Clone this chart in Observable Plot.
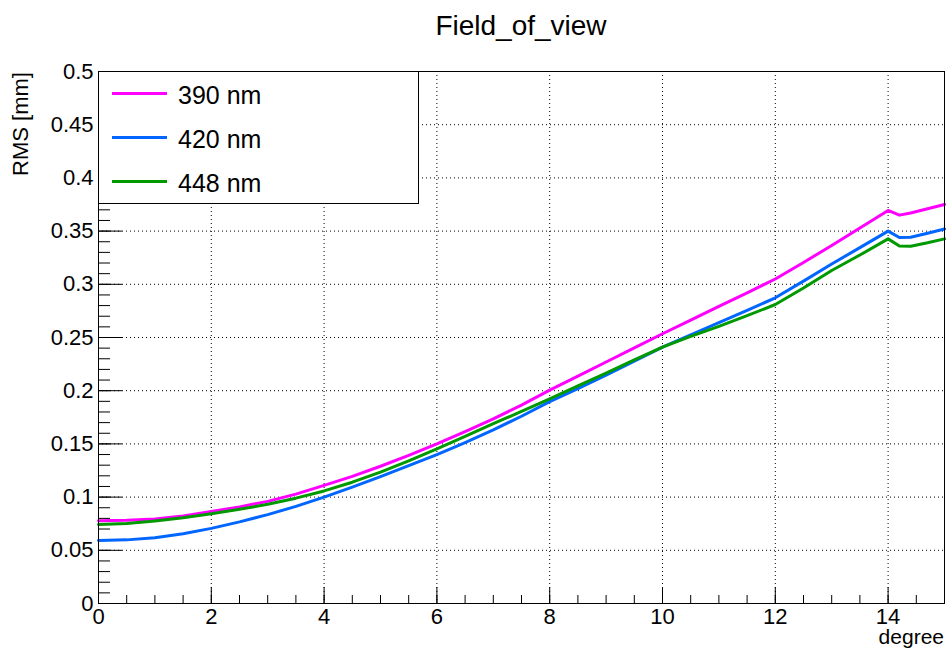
<!DOCTYPE html>
<html><head><meta charset="utf-8">
<script src="https://cdn.jsdelivr.net/npm/d3@7"></script>
<script src="https://cdn.jsdelivr.net/npm/@observablehq/plot@0.6"></script>
<style>
body{margin:0;background:#fff;}
#wrap{position:relative;width:946px;height:649px;font-family:"Liberation Sans",Arial,sans-serif;}
#wrap svg{position:absolute;left:0;top:0;}
</style></head><body><div id="wrap"></div>
<script>
const title = "Field_of_view";
const yTitle = "RMS [mm]";
const xTitle = "degree";
const seriesNames = ["390 nm", "420 nm", "448 nm"];
const seriesColors = ["#ff00ff", "#0066ff", "#009900"];

const degrees = [0,0.5,1,1.5,2,2.5,3,3.5,4,4.5,5,5.5,6,6.5,7,7.5,8,8.5,9,9.5,10,10.5,11,11.5,12,12.5,13,13.5,14,14.2,14.4,14.7,15];
const rms390 = [0.0778,0.0782,0.0795,0.0822,0.0866,0.0908,0.0960,0.1028,0.1110,0.1195,0.1290,0.1392,0.1500,0.1615,0.1735,0.1865,0.2005,0.2137,0.2270,0.2402,0.2535,0.2664,0.2793,0.2920,0.3050,0.3205,0.3365,0.3530,0.3694,0.3650,0.3670,0.3710,0.3750];
const rms420 = [0.0592,0.0598,0.0618,0.0655,0.0706,0.0767,0.0835,0.0913,0.1000,0.1093,0.1192,0.1295,0.1400,0.1513,0.1632,0.1760,0.1898,0.2019,0.2146,0.2278,0.2410,0.2525,0.2640,0.2755,0.2873,0.3030,0.3190,0.3345,0.3500,0.3440,0.3443,0.3480,0.3520];
const rms448 = [0.0742,0.0752,0.0775,0.0805,0.0843,0.0885,0.0932,0.0990,0.1058,0.1140,0.1235,0.1340,0.1454,0.1570,0.1690,0.1805,0.1924,0.2045,0.2165,0.2290,0.2410,0.2510,0.2605,0.2705,0.2810,0.2965,0.3130,0.3275,0.3427,0.3360,0.3358,0.3390,0.3427];

const xMajor = [0,2,4,6,8,10,12,14];
const xLabels = ["0","2","4","6","8","10","12","14"];
const xMinor = [0,0.5,1,1.5,2,2.5,3,3.5,4,4.5,5,5.5,6,6.5,7,7.5,8,8.5,9,9.5,10,10.5,11,11.5,12,12.5,13,13.5,14,14.5,15];
const yMajor = [0,0.05,0.1,0.15,0.2,0.25,0.3,0.35,0.4,0.45,0.5];
const yLabels = ["0","0.05","0.1","0.15","0.2","0.25","0.3","0.35","0.4","0.45","0.5"];
const yMinor = [0,0.01,0.02,0.03,0.04,0.05,0.06,0.07,0.08,0.09,0.1,0.11,0.12,0.13,0.14,0.15,0.16,0.17,0.18,0.19,0.2,0.21,0.22,0.23,0.24,0.25,0.26,0.27,0.28,0.29,0.3,0.31,0.32,0.33,0.34,0.35,0.36,0.37,0.38,0.39,0.4,0.41,0.42,0.43,0.44,0.45,0.46,0.47,0.48,0.49,0.5];

const allSeries = [rms390, rms420, rms448];
const data = [];
allSeries.forEach((arr, s) => arr.forEach((v, i) => data.push({deg: degrees[i], rms: v, series: seriesNames[s]})));

const gridStyle = {stroke: "black", strokeOpacity: 1, strokeWidth: 1, strokeDasharray: "1,3"};

const chart = Plot.plot({
  width: 946, height: 649,
  marginLeft: 98, marginRight: 2, marginTop: 71, marginBottom: 46,
  x: {domain: [0, 15]},
  y: {domain: [0, 0.5]},
  color: {domain: seriesNames, range: seriesColors},
  style: {fontFamily: "'Liberation Sans', Arial, sans-serif", fontSize: "22px", color: "black", background: "white"},
  marks: [
    Plot.gridX({ticks: xMajor, ...gridStyle}),
    Plot.gridY({ticks: yMajor, ...gridStyle}),
    Plot.axisX({ticks: xMinor, tickSize: -8, tickFormat: () => "", label: null}),
    Plot.axisX({ticks: xMajor, tickSize: -16, tickFormat: () => "", label: null}),
    Plot.axisX({ticks: xMajor, tickSize: 0, tickPadding: 5, tickFormat: (d, i) => xLabels[i], label: null}),
    Plot.axisY({ticks: yMinor, tickSize: -12, tickFormat: () => "", label: null}),
    Plot.axisY({ticks: yMajor, tickSize: -24, tickFormat: () => "", label: null}),
    Plot.axisY({ticks: yMajor, tickSize: 0, tickPadding: 5, tickFormat: (d, i) => yLabels[i], label: null}),
    Plot.line(data, {x: "deg", y: "rms", z: "series", stroke: "series", strokeWidth: 3, curve: "linear"}),
    Plot.frame({stroke: "black", strokeWidth: 1})
  ]
});
const wrap = document.getElementById("wrap");
wrap.appendChild(chart);

// overlay: title, axis titles, legend
const ov = d3.select(wrap).append("svg")
  .attr("width", 946).attr("height", 649)
  .style("pointer-events", "none")
  .attr("font-family", "'Liberation Sans', Arial, sans-serif");
ov.append("text").attr("x", 521).attr("y", 35).attr("text-anchor", "middle").attr("font-size", 28).text(title);
ov.append("text").attr("transform", "translate(27.5,72) rotate(-90)").attr("text-anchor", "end").attr("font-size", 22).text(yTitle);
ov.append("text").attr("x", 944).attr("y", 644).attr("text-anchor", "end").attr("font-size", 21).text(xTitle);
const lg = ov.append("g");
lg.append("rect").attr("x", 98.5).attr("y", 71.5).attr("width", 320).attr("height", 132)
  .attr("fill", "white").attr("stroke", "black").attr("stroke-width", 1);
seriesNames.forEach((name, i) => {
  const cy = 93.5 + i * 44;
  lg.append("line").attr("x1", 112).attr("x2", 167).attr("y1", cy).attr("y2", cy)
    .attr("stroke", seriesColors[i]).attr("stroke-width", 3);
  lg.append("text").attr("x", 178).attr("y", cy + 10.5).attr("font-size", 25).text(name);
});
</script>
</body></html>
